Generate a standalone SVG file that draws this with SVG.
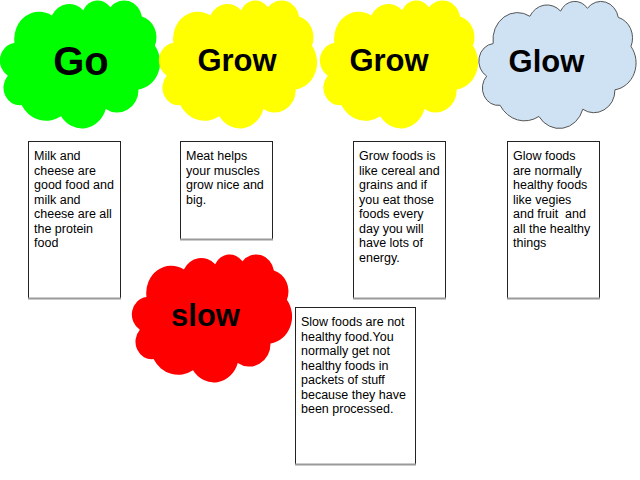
<svg xmlns="http://www.w3.org/2000/svg" xmlns:xlink="http://www.w3.org/1999/xlink" width="640" height="480" viewBox="0 0 640 480">
<style>
.title{font-family:"Liberation Sans",Arial,sans-serif;font-weight:bold;fill:#000;text-anchor:middle}
.body{font-family:"Liberation Sans",Arial,sans-serif;font-size:12.5px;fill:#000}
.box{fill:#fff;stroke:#222;stroke-width:1}
.shadow{stroke:#9a9a9a;stroke-width:2}
</style>
<defs>
<path id="cloud" d="M9.03,33.26 A15.63,21.27 0 0 1 32.42,12.04 A12.34,16.82 0 0 1 51.98,7.95 A10.10,13.76 0 0 1 69.06,5.74 A11.24,15.27 0 0 1 88.70,12.91 A12.34,16.84 0 0 1 96.80,35.79 A15.68,21.34 0 0 1 86.58,69.91 A13.39,18.21 0 0 1 66.10,85.21 A15.63,21.33 0 0 1 38.15,90.89 A17.87,24.41 0 0 1 13.44,82.12 A10.09,13.70 0 0 1 4.89,59.15 A10.06,13.76 0 0 1 8.94,33.58 Z" vector-effect="non-scaling-stroke"/>
</defs>
<rect width="640" height="480" fill="#fff"/>

<g id="node-go">
<use xlink:href="#cloud" href="#cloud" transform="translate(0,0) scale(1.6,1.28)" fill="#00ff00"/>
<text class="title" x="81" y="74.5" font-size="40">Go</text>
</g>
<g id="node-grow1">
<use xlink:href="#cloud" href="#cloud" transform="translate(159,0) scale(1.58,1.28)" fill="#ffff00"/>
<text class="title" x="237" y="71" font-size="31">Grow</text>
</g>
<g id="node-grow2">
<use xlink:href="#cloud" href="#cloud" transform="translate(320,0) scale(1.58,1.28)" fill="#ffff00"/>
<text class="title" x="389" y="71" font-size="31">Grow</text>
</g>
<g id="node-glow">
<use xlink:href="#cloud" href="#cloud" transform="translate(479,1) scale(1.57,1.27)" fill="#cfe2f3" stroke="#555" stroke-width="1"/>
<text class="title" x="546.5" y="71.5" font-size="31">Glow</text>
</g>
<g id="node-slow">
<use xlink:href="#cloud" href="#cloud" transform="translate(132,254) scale(1.6,1.28)" fill="#ff0000"/>
<text class="title" x="205.5" y="326" font-size="31">slow</text>
</g>

<g id="box-go">
<rect class="box" x="28.5" y="141.5" width="92" height="157"/>
<line class="shadow" x1="28" y1="298.5" x2="121" y2="298.5"/>
<text class="body"><tspan x="34" y="160">Milk and</tspan><tspan x="34" y="174.5">cheese are</tspan><tspan x="34" y="189">good food and</tspan><tspan x="34" y="203.5">milk and</tspan><tspan x="34" y="218">cheese are all</tspan><tspan x="34" y="232.5">the protein</tspan><tspan x="34" y="247">food</tspan></text>
</g>
<g id="box-grow1">
<rect class="box" x="180.5" y="141.5" width="92" height="98"/>
<line class="shadow" x1="180" y1="239.5" x2="273" y2="239.5"/>
<text class="body"><tspan x="186" y="160">Meat helps</tspan><tspan x="186" y="174.5">your muscles</tspan><tspan x="186" y="189">grow nice and</tspan><tspan x="186" y="203.5">big.</tspan></text>
</g>
<g id="box-grow2">
<rect class="box" x="353.5" y="141.5" width="92" height="157"/>
<line class="shadow" x1="353" y1="298.5" x2="446" y2="298.5"/>
<text class="body"><tspan x="359" y="160">Grow foods is</tspan><tspan x="359" y="174.5">like cereal and</tspan><tspan x="359" y="189">grains and if</tspan><tspan x="359" y="203.5">you eat those</tspan><tspan x="359" y="218">foods every</tspan><tspan x="359" y="232.5">day you will</tspan><tspan x="359" y="247">have lots of</tspan><tspan x="359" y="261.5">energy.</tspan></text>
</g>
<g id="box-glow">
<rect class="box" x="507.5" y="141.5" width="92" height="157"/>
<line class="shadow" x1="507" y1="298.5" x2="600" y2="298.5"/>
<text class="body" xml:space="preserve"><tspan x="513" y="160">Glow foods</tspan><tspan x="513" y="174.5">are normally</tspan><tspan x="513" y="189">healthy foods</tspan><tspan x="513" y="203.5">like vegies</tspan><tspan x="513" y="218">and fruit  and</tspan><tspan x="513" y="232.5">all the healthy</tspan><tspan x="513" y="247">things</tspan></text>
</g>
<g id="box-slow">
<rect class="box" x="295.5" y="307.5" width="120" height="157"/>
<line class="shadow" x1="295" y1="464.5" x2="416" y2="464.5"/>
<text class="body"><tspan x="301" y="326">Slow foods are not</tspan><tspan x="301" y="340.5">healthy food.You</tspan><tspan x="301" y="355">normally get not</tspan><tspan x="301" y="369.5">healthy foods in</tspan><tspan x="301" y="384">packets of stuff</tspan><tspan x="301" y="398.5">because they have</tspan><tspan x="301" y="413">been processed.</tspan></text>
</g>
<g id="connectors"></g>
</svg>
